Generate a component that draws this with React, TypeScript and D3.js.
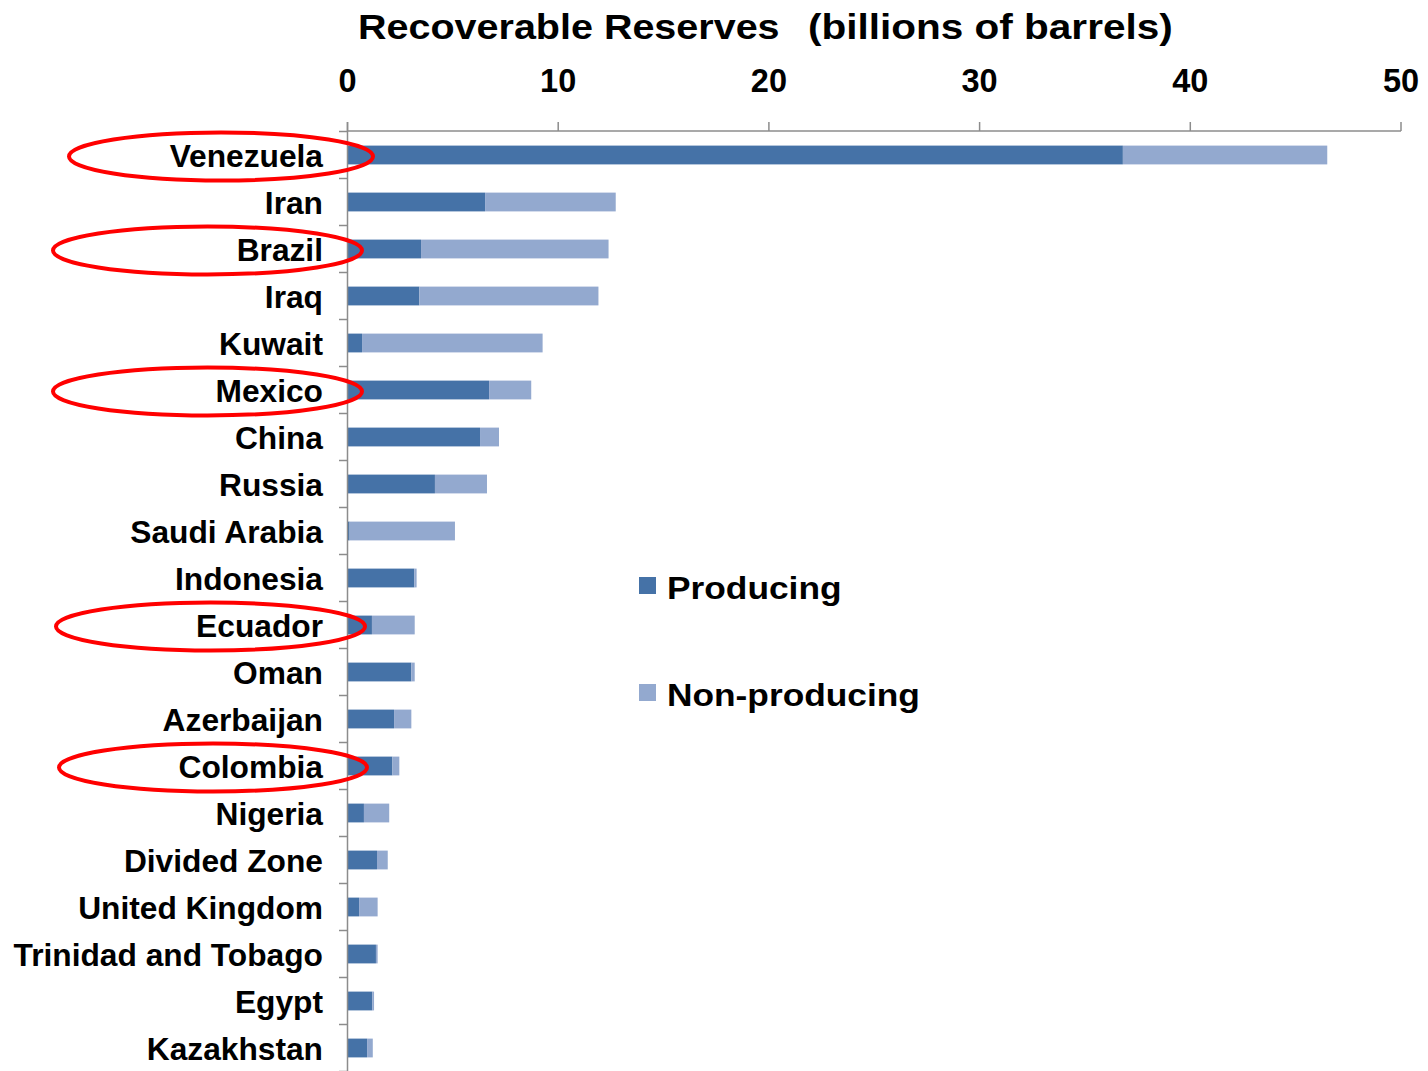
import React from "react";
import * as d3 from "d3";

const countries = [
  "Venezuela", "Iran", "Brazil", "Iraq", "Kuwait", "Mexico", "China", "Russia",
  "Saudi Arabia", "Indonesia", "Ecuador", "Oman", "Azerbaijan", "Colombia",
  "Nigeria", "Divided Zone", "United Kingdom", "Trinidad and Tobago", "Egypt", "Kazakhstan",
];
const producing = [36.8, 6.53, 3.49, 3.41, 0.69, 6.72, 6.29, 4.15, 0.1, 3.17, 1.16, 3.03, 2.21, 2.13, 0.78, 1.4, 0.55, 1.35, 1.18, 0.93];
const nonProducing = [9.7, 6.2, 8.9, 8.5, 8.57, 2.0, 0.9, 2.47, 5.0, 0.11, 2.03, 0.16, 0.82, 0.33, 1.2, 0.51, 0.88, 0.08, 0.08, 0.27];
const xTicks = [0, 10, 20, 30, 40, 50];
const highlighted = ["Venezuela", "Brazil", "Mexico", "Ecuador", "Colombia"];
const seriesNames = ["Producing", "Non-producing"];

const W = 1428;
const H = 1071;
const COLORS = ["#4572A7", "#93A9CF"];
const FONT = "'Liberation Sans', Arial, Helvetica, sans-serif";
const AXIS = "#8c8c8c";

export default function App() {
  const x = d3.scaleLinear().domain([0, 50]).range([347.5, 1401]);
  const y = d3.scaleBand<string>().domain(countries).range([131.5, 1071.5]).paddingInner(0.6).paddingOuter(0.3);
  const step = y.step();
  const bw = y.bandwidth();

  const rows = countries.map((c, i) => ({ c, p: producing[i], n: nonProducing[i] }));

  const ellipseGeom: Record<string, { cx: number; rx: number }> = {
    Venezuela: { cx: 221, rx: 152 },
    Brazil: { cx: 207.5, rx: 154.5 },
    Mexico: { cx: 207.5, rx: 154.5 },
    Ecuador: { cx: 210.5, rx: 154.5 },
    Colombia: { cx: 213, rx: 154 },
  };

  return (
    <svg width={W} height={H} style={{ position: "absolute", left: 0, top: 0, background: "#fff" }} fontFamily={FONT}>
      {/* title */}
      <text transform="translate(358,39) scale(1.145,1)" fontSize={34.5} fontWeight="bold" fill="#000">Recoverable Reserves</text>
      <text transform="translate(808,39) scale(1.175,1)" fontSize={34.5} fontWeight="bold" fill="#000">(billions of barrels)</text>

      {/* top axis */}
      <line x1={x(0)} x2={x(50)} y1={131} y2={131} stroke={AXIS} strokeWidth={1.5} />
      {xTicks.map((t) => (
        <g key={t}>
          <line x1={x(t)} x2={x(t)} y1={122} y2={131} stroke={AXIS} strokeWidth={1.5} />
          <text x={x(t)} y={92} textAnchor="middle" fontSize={32.5} fontWeight="bold" fill="#000">{t}</text>
        </g>
      ))}

      {/* bars */}
      {rows.map((r) => {
        const yy = y(r.c)!;
        return (
          <g key={r.c}>
            <rect x={x(0)} y={yy} width={x(r.p) - x(0)} height={bw} fill={COLORS[0]} />
            <rect x={x(r.p)} y={yy} width={x(r.p + r.n) - x(r.p)} height={bw} fill={COLORS[1]} />
          </g>
        );
      })}

      {/* left axis */}
      <line x1={x(0)} x2={x(0)} y1={122} y2={1071} stroke={AXIS} strokeWidth={1.5} />
      {d3.range(countries.length + 1).map((k) => (
        <line key={k} x1={339} x2={x(0)} y1={131.5 + k * step} y2={131.5 + k * step} stroke={AXIS} strokeWidth={1.5} />
      ))}

      {/* category labels */}
      {rows.map((r) => {
        const cy = y(r.c)! + bw / 2;
        return (
          <text key={r.c} transform={`translate(323,${cy + 11.5}) scale(1.04,1)`} textAnchor="end" fontSize={30.5} fontWeight="bold" fill="#000">
            {r.c}
          </text>
        );
      })}

      {/* highlight ellipses */}
      {highlighted.map((c) => {
        const g = ellipseGeom[c];
        const cy = y(c)! + bw / 2 + 1.5;
        return <ellipse key={c} cx={g.cx} cy={cy} rx={g.rx} ry={24} fill="none" stroke="#FF0000" strokeWidth={4} />;
      })}

      {/* legend */}
      {seriesNames.map((s, i) => {
        const ly = 585.5 + i * 107;
        return (
          <g key={s}>
            <rect x={639} y={ly - 8.5} width={17} height={17} fill={COLORS[i]} />
            <text transform={`translate(667,${ly + 13.5}) scale(1.15,1)`} fontSize={30.7} fontWeight="bold" fill="#000">{s}</text>
          </g>
        );
      })}
    </svg>
  );
}
